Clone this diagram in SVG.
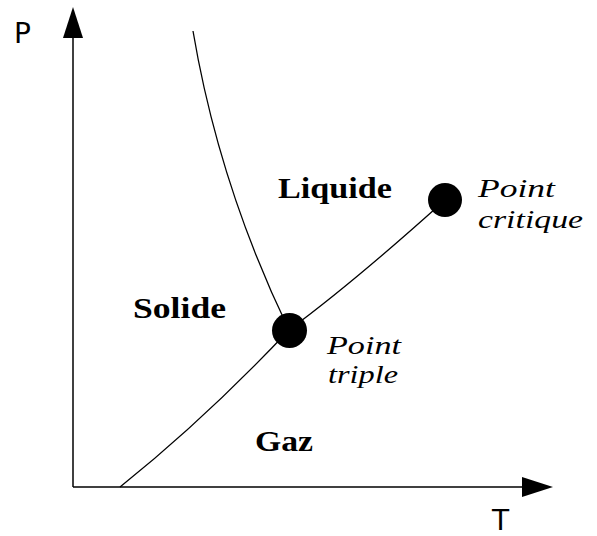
<svg xmlns="http://www.w3.org/2000/svg" width="597" height="536" viewBox="0 0 597 536">
  <style>
    .axis { stroke: #000; stroke-width: 1.5; fill: none; }
    .curve { stroke: #000; stroke-width: 1.3; fill: none; }
    .ax-label { font-family: "DejaVu Sans", "Open Sans", sans-serif; font-size: 28px; fill: #000; }
    .region { font-family: "Liberation Serif", "DejaVu Serif", serif; font-weight: bold; font-size: 30px; fill: #000; }
    .note { font-family: "Liberation Serif", "DejaVu Serif", serif; font-style: italic; font-size: 26px; fill: #000; }
    .pt { fill: #000; }
  </style>
  <rect width="597" height="536" fill="#fff"/>
  <g id="axes">
    <line class="axis" x1="73" y1="487" x2="73" y2="36"/>
    <polygon points="73,7 63,38 83,38" fill="#000"/>
    <line class="axis" x1="73" y1="487" x2="524" y2="487"/>
    <polygon points="553,487 522,477 522,497" fill="#000"/>
    <text class="ax-label" x="14" y="43">P</text>
    <text class="ax-label" x="492" y="530">T</text>
  </g>
  <g id="connectors">
    <path class="curve" d="M193,31 Q219,185 289,330"/>
    <path class="curve" d="M289,330 Q354,282 445,200"/>
    <path class="curve" d="M120,487 Q205,419 289,330"/>
  </g>
  <g id="liquide"><text class="region" x="278" y="198" textLength="114" lengthAdjust="spacingAndGlyphs">Liquide</text></g>
  <g id="solide"><text class="region" x="133" y="318" textLength="93" lengthAdjust="spacingAndGlyphs">Solide</text></g>
  <g id="gaz"><text class="region" x="255" y="451" textLength="58" lengthAdjust="spacingAndGlyphs">Gaz</text></g>
  <g id="point-critique">
    <circle class="pt" cx="445" cy="200" r="17"/>
    <text class="note" x="478" y="197" textLength="77" lengthAdjust="spacingAndGlyphs">Point</text>
    <text class="note" x="478" y="228" textLength="105" lengthAdjust="spacingAndGlyphs">critique</text>
  </g>
  <g id="point-triple">
    <circle class="pt" cx="289.5" cy="330.5" r="17.5"/>
    <text class="note" x="327" y="354" textLength="74" lengthAdjust="spacingAndGlyphs">Point</text>
    <text class="note" x="328" y="383" textLength="70" lengthAdjust="spacingAndGlyphs">triple</text>
  </g>
</svg>
